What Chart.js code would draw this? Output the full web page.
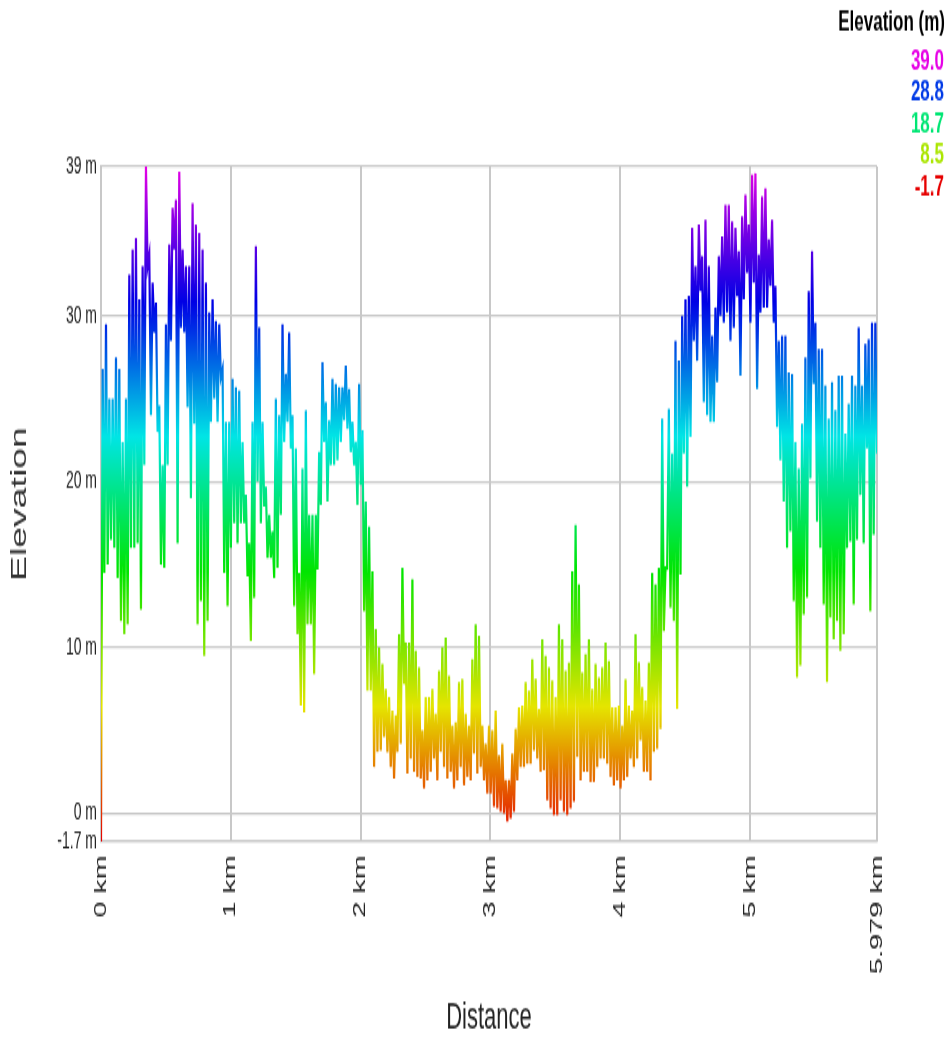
<!DOCTYPE html>
<html>
<head>
<meta charset="utf-8">
<script src="https://cdn.jsdelivr.net/npm/chart.js@4/dist/chart.umd.min.js"></script>
<style>
    body { margin: 0; background: #fff; }
    #profile { display: block; }
</style>
</head>
<body>
<!-- drawn at 949x610 and stretched to the page height, like the original image -->
<canvas id="profile" width="949" height="610" style="width:949px;height:1037px"></canvas>
<script>
// elevation in m, sampled evenly along the track (0 - 5.979 km)
var elevKm0 = [-1.7,
    26.8, 14.5, 29.5, 15, 25, 16.5, 25, 16, 27.5, 14.2, 26.8, 11.6, 22.4, 10.8, 25, 11.4, 32.5, 16, 34, 16,
    34.7, 16.3, 31, 12.3, 33, 21, 39, 33, 33.7, 24, 32, 29, 30.8, 23, 24.6, 15, 21, 14.8, 29.5, 21,
    34.3, 28.5, 36.5, 34, 37, 16.3, 38.7, 29.3, 34, 29, 33, 24.5, 33, 19, 36.8, 23.5, 35.5, 11.4, 35, 12.8,
    34, 9.5, 32, 11.6, 30.2, 23.6, 31, 25, 29.7, 23.6, 29.5, 26.3, 26.8, 14.5, 23.6, 12.5, 23.6, 16, 26.2, 17.5,
    25.7, 16.3, 25.5, 17.5, 22.4, 17.5, 19.2, 14.3, 16.3, 10.4, 23.6, 13, 34.2, 20, 29.3, 17.5];
var elevKm1 = [
    23.6, 18.5, 19.7, 15.4, 18, 15.4, 17, 14.2, 25, 14.8, 24, 18, 29.5, 22.4, 26.5, 23.6, 29, 22, 24, 12.5,
    22, 10.8, 14.5, 6.5, 20.8, 6.1, 24.3, 11.4, 18, 11.4, 18, 8.4, 18, 14.7, 21.8, 18.6, 27.2, 22.4, 24.8, 18.8,
    23.7, 21, 26.2, 21, 25.9, 21.3, 25.7, 22.4, 25.7, 23.7, 27, 23.2, 25.6, 21.8, 23.6, 21, 22.4, 18.6, 25.9, 19.8,
    23.1, 12.2, 18.8, 7.4, 17.3, 7.4, 14.6, 2.8, 11.1, 3.7, 10, 3.8, 9, 4.6, 7.5, 3.7, 7, 2.8, 6.2, 2.1,
    5.9, 3.7, 10.8, 4.2, 14.8, 7.8, 10.3, 2.4, 10.3, 3.3, 14.1, 2.5, 9.8, 2.2, 8.8, 2.1];
var elevKm2 = [
    5, 1.5, 7, 2, 7, 2.5, 7.5, 3.3, 6, 2, 8.6, 3.7, 10, 2.8, 10.6, 2.1, 8.3, 2.5, 5.3, 1.5,
    5.5, 2, 7.9, 2.8, 8.1, 1.7, 6, 2.2, 5.3, 2, 9.3, 3.6, 11.4, 2.4, 10.7, 2.8, 5.3, 2, 4.2, 1.2,
    5.3, 1.2, 5, 0.4, 6.2, 0.3, 3.5, 0.1, 4.2, 0, 2, -0.5, 2, -0.3, 3.6, 0.1, 5.1, 2, 6.4, 2.8,
    6.5, 2.8, 7.9, 3, 7.4, 3, 9.3, 3.8, 8.1, 3.3, 6.3, 2.5, 10.5, 2.6, 9.5, 0.8, 8.8, 0.3, 8, -0.1,
    7, -0.1, 11.4, 0.8, 10.5, 0.1, 8.6, -0.1, 9.1, 0.3, 14.6, 0.7, 17.4, 3.4, 13.8, 2];
var elevKm3 = [
    8.5, 2.5, 9.6, 2.5, 10.5, 1.9, 7.5, 1.9, 9, 2.8, 8.2, 3.3, 8.8, 3.3, 10.3, 3, 9.2, 2.2, 6.4, 1.7,
    6.4, 2, 6.5, 1.5, 5.3, 2, 8.1, 2.2, 6.5, 3.3, 6.2, 2.8, 10.8, 3.3, 9.1, 4.4, 7.6, 2.5, 6.8, 2.5,
    9.1, 2, 14.5, 3.7, 13.8, 3.9, 14.8, 5.1, 23.8, 11, 14.8, 14.8, 24.4, 12.4, 21.7, 11.6, 28.5, 6.3, 27.3, 14.4,
    30, 21.7, 31, 19.7, 31.2, 22.7, 35.3, 28.5, 33, 27.3, 35.5, 31.5, 33.6, 24.8, 35.8, 24, 33, 23.6, 28.8, 23.6,
    30.5, 26, 33.6, 30, 34.8, 29.6, 36.7, 30.2, 36.7, 28.5, 35.7, 29.3, 35.3, 31.2, 33.9, 26.4];
var elevKm4 = [
    36, 31, 37.3, 32.6, 35.5, 29.6, 38.5, 32, 38.6, 25.6, 33.7, 30.2, 37.2, 30.5, 37.7, 30.5, 34.6, 31.8, 35.8, 29.6,
    31.8, 23.3, 28.5, 21.3, 28.8, 18.8, 28.8, 16, 26.6, 17, 26.5, 12.8, 22.4, 8.2, 20.8, 8.9, 23.5, 12, 27.5, 13,
    31.5, 20.2, 33.9, 25.9, 29.6, 17.6, 28, 16, 28, 12.6, 25.8, 7.9, 23.8, 11.8, 26, 10.5, 24.3, 11.6, 26.4, 9.8,
    26.4, 10.8, 22.9, 16, 24.7, 16.4, 26.4, 12.6, 25.8, 16.5, 29.3, 19.2, 25.8, 16.3, 28.3, 22, 28.6, 12.2, 29.6, 16.8,
    29.6, 21.7];

var TRACK_KM = 5.979;
var Y_MIN = -1.7;
var Y_MAX = 39;
var xTicks = [0, 1, 2, 3, 4, 5, 5.979];
var yTicks = [-1.7, 0, 10, 20, 30, 39];
var legendValues = [39.0, 28.8, 18.7, 8.5, -1.7];

var elevation = [].concat(elevKm0, elevKm1, elevKm2, elevKm3, elevKm4);
var step = TRACK_KM / (elevation.length - 1);
var points = elevation.map(function (v, i) {
    return { x: i * step, y: v };
});

// red at the lowest point round to magenta at the highest
function elevationColor(v) {
    var hue = 300 * (v - Y_MIN) / (Y_MAX - Y_MIN);
    return 'hsl(' + hue.toFixed(1) + ', 100%, 45%)';
}

var colorLegend = {
    id: 'colorLegend',
    afterDraw: function (chart) {
        var ctx = chart.ctx;
        ctx.save();
        ctx.textAlign = 'right';
        ctx.textBaseline = 'middle';
        ctx.font = 'bold 17px "Liberation Sans", Arial, sans-serif';
        ctx.fillStyle = '#000';
        ctx.fillText('Elevation (m)', 945, 13);
        legendValues.forEach(function (v, i) {
            ctx.fillStyle = elevationColor(v);
            ctx.fillText(v.toFixed(1), 944, 36 + i * 18.5);
        });
        ctx.restore();
    }
};

var ctx = document.getElementById('profile').getContext('2d');
new Chart(ctx, {
    type: 'line',
    data: {
        datasets: [{
            data: points,
            borderWidth: 2.2,
            pointRadius: 0,
            tension: 0,
            fill: false,
            borderColor: function (context) {
                var chart = context.chart;
                if (!chart.chartArea) return '#0c0';
                var y = chart.scales.y;
                var g = chart.ctx.createLinearGradient(0, y.getPixelForValue(Y_MIN), 0, y.getPixelForValue(Y_MAX));
                for (var i = 0; i <= 20; i++) {
                    g.addColorStop(i / 20, elevationColor(Y_MIN + (Y_MAX - Y_MIN) * i / 20));
                }
                return g;
            }
        }]
    },
    options: {
        responsive: false,
        animation: false,
        devicePixelRatio: 1,
        layout: { padding: { top: 98, right: 72, bottom: 0, left: 0 } },
        plugins: {
            legend: { display: false },
            tooltip: { enabled: false }
        },
        scales: {
            x: {
                type: 'linear',
                min: 0,
                max: TRACK_KM,
                afterBuildTicks: function (scale) {
                    scale.ticks = xTicks.map(function (v) { return { value: v }; });
                },
                afterFit: function (scale) { scale.height = 115; },
                grid: { color: '#c8c8c8', lineWidth: 2, drawTicks: false },
                border: { color: '#c8c8c8', width: 1.2 },
                ticks: {
                    autoSkip: false,
                    minRotation: 90,
                    maxRotation: 90,
                    padding: 8,
                    color: '#222',
                    font: { family: '"Liberation Sans", Arial, sans-serif', size: 17 },
                    callback: function (value) { return value + ' km'; }
                },
                title: {
                    display: true,
                    text: 'Distance',
                    color: '#222',
                    padding: 0,
                    font: { family: '"Liberation Sans", Arial, sans-serif', size: 22, lineHeight: 1 }
                }
            },
            y: {
                min: Y_MIN,
                max: Y_MAX,
                afterBuildTicks: function (scale) {
                    scale.ticks = yTicks.map(function (v) { return { value: v }; });
                },
                afterFit: function (scale) { scale.width = 101; },
                grid: { color: '#c8c8c8', lineWidth: 1.2, drawTicks: false },
                border: { color: '#c8c8c8', width: 2 },
                ticks: {
                    autoSkip: false,
                    padding: 4,
                    color: '#222',
                    font: { family: '"Liberation Sans", Arial, sans-serif', size: 14 },
                    callback: function (value) { return value + ' m'; }
                },
                title: {
                    display: true,
                    text: 'Elevation',
                    color: '#333',
                    padding: { top: 9, bottom: 0 },
                    font: { family: '"Liberation Sans", Arial, sans-serif', size: 22, lineHeight: 1 }
                }
            }
        }
    },
    plugins: [colorLegend]
});
</script>
</body>
</html>
